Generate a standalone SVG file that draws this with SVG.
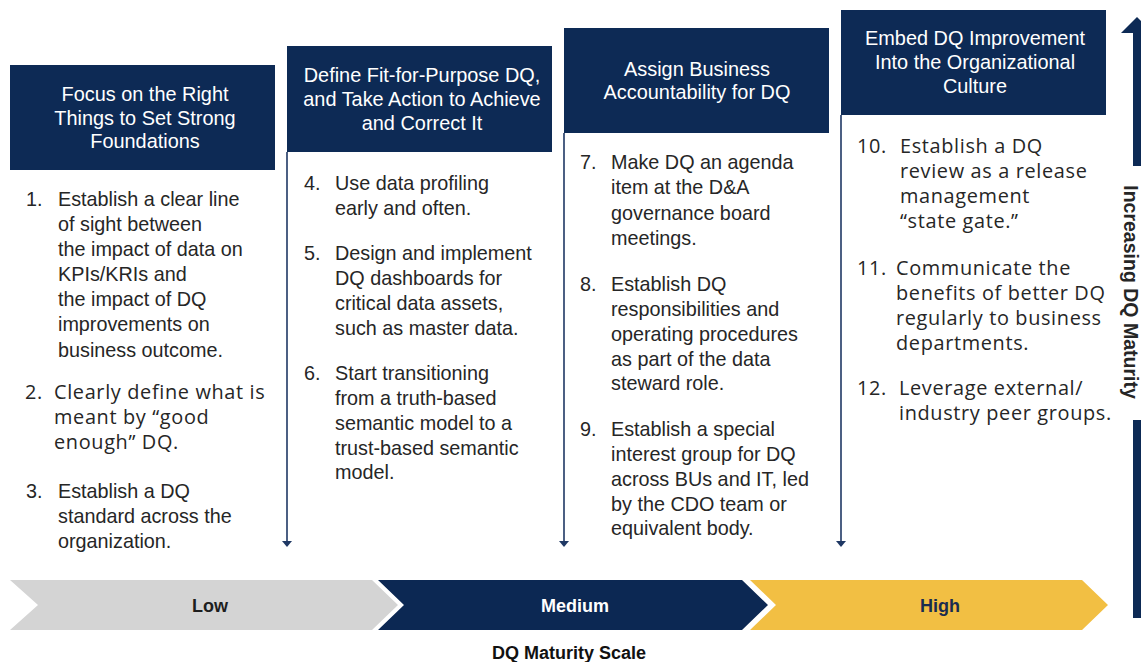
<svg xmlns="http://www.w3.org/2000/svg" width="1141" height="662" viewBox="0 0 1141 662">
  <style>
    .hdr { fill: #0d2a55; }
    .htxt { font-family: "Liberation Sans", Arial, sans-serif; font-size: 19.9px; fill: #ffffff; text-anchor: middle; }
    .body { font-family: "Liberation Sans", Arial, sans-serif; font-size: 19.8px; fill: #262626; }
    .alt { font-family: "Open Sans", "Liberation Sans", sans-serif; font-size: 19.9px; fill: #262626; letter-spacing: 0.65px; }
    .guide { stroke: #1f3864; stroke-width: 1.6; fill: none; }
    .tip { fill: #1f3864; }
    .scale { font-family: "Liberation Sans", Arial, sans-serif; font-size: 18px; font-weight: bold; text-anchor: middle; }
  </style>
  <rect width="1141" height="662" fill="#ffffff"/>

  <!-- column guides -->
  <g id="connectors">
    <line class="guide" x1="287" y1="152" x2="287" y2="542"/>
    <path class="tip" d="M282,541 L292,541 L287,547 Z"/>
    <line class="guide" x1="564" y1="133" x2="564" y2="542"/>
    <path class="tip" d="M559,541 L569,541 L564,547 Z"/>
    <line class="guide" x1="841" y1="115" x2="841" y2="542"/>
    <path class="tip" d="M836,541 L846,541 L841,547 Z"/>
  </g>

  <!-- stage 1 -->
  <g id="stage1">
    <rect class="hdr" x="10" y="65" width="265" height="105"/>
    <text class="htxt" x="145" y="101">Focus on the Right</text>
    <text class="htxt" x="145" y="125">Things to Set Strong</text>
    <text class="htxt" x="145" y="148">Foundations</text>
    <text class="body" x="26" y="206">1.</text>
    <text class="body" x="58" y="206">Establish a clear line</text>
    <text class="body" x="58" y="231">of sight between</text>
    <text class="body" x="58" y="256">the impact of data on</text>
    <text class="body" x="58" y="281">KPIs/KRIs and</text>
    <text class="body" x="58" y="306">the impact of DQ</text>
    <text class="body" x="58" y="331">improvements on</text>
    <text class="body" x="58" y="357">business outcome.</text>
    <text class="alt" x="25" y="399">2.</text>
    <text class="alt" x="54" y="399">Clearly define what is</text>
    <text class="alt" x="54" y="424">meant by “good</text>
    <text class="alt" x="54" y="449">enough” DQ.</text>
    <text class="body" x="26" y="498">3.</text>
    <text class="body" x="58" y="498">Establish a DQ</text>
    <text class="body" x="58" y="523">standard across the</text>
    <text class="body" x="58" y="548">organization.</text>
  </g>

  <!-- stage 2 -->
  <g id="stage2">
    <rect class="hdr" x="287" y="46" width="265" height="106"/>
    <text class="htxt" x="422" y="82">Define Fit-for-Purpose DQ,</text>
    <text class="htxt" x="422" y="106">and Take Action to Achieve</text>
    <text class="htxt" x="422" y="130">and Correct It</text>
    <text class="body" x="304" y="190">4.</text>
    <text class="body" x="335" y="190">Use data profiling</text>
    <text class="body" x="335" y="215">early and often.</text>
    <text class="body" x="304" y="260">5.</text>
    <text class="body" x="335" y="260">Design and implement</text>
    <text class="body" x="335" y="285">DQ dashboards for</text>
    <text class="body" x="335" y="310">critical data assets,</text>
    <text class="body" x="335" y="335">such as master data.</text>
    <text class="body" x="304" y="380">6.</text>
    <text class="body" x="335" y="380">Start transitioning</text>
    <text class="body" x="335" y="405">from a truth-based</text>
    <text class="body" x="335" y="430">semantic model to a</text>
    <text class="body" x="335" y="455">trust-based semantic</text>
    <text class="body" x="335" y="479">model.</text>
  </g>

  <!-- stage 3 -->
  <g id="stage3">
    <rect class="hdr" x="564" y="28" width="265" height="105"/>
    <text class="htxt" x="697" y="76">Assign Business</text>
    <text class="htxt" x="697" y="99">Accountability for DQ</text>
    <text class="body" x="580" y="169">7.</text>
    <text class="body" x="611" y="169">Make DQ an agenda</text>
    <text class="body" x="611" y="194">item at the D&amp;A</text>
    <text class="body" x="611" y="220">governance board</text>
    <text class="body" x="611" y="245">meetings.</text>
    <text class="body" x="580" y="291">8.</text>
    <text class="body" x="611" y="291">Establish DQ</text>
    <text class="body" x="611" y="316">responsibilities and</text>
    <text class="body" x="611" y="341">operating procedures</text>
    <text class="body" x="611" y="366">as part of the data</text>
    <text class="body" x="611" y="390">steward role.</text>
    <text class="body" x="580" y="436">9.</text>
    <text class="body" x="611" y="436">Establish a special</text>
    <text class="body" x="611" y="461">interest group for DQ</text>
    <text class="body" x="611" y="486">across BUs and IT, led</text>
    <text class="body" x="611" y="511">by the CDO team or</text>
    <text class="body" x="611" y="535">equivalent body.</text>
  </g>

  <!-- stage 4 -->
  <g id="stage4">
    <rect class="hdr" x="841" y="10" width="265" height="105"/>
    <text class="htxt" x="975" y="45">Embed DQ Improvement</text>
    <text class="htxt" x="975" y="69">Into the Organizational</text>
    <text class="htxt" x="975" y="93">Culture</text>
    <text class="alt" x="857" y="153">10.</text>
    <text class="alt" x="900" y="153">Establish a DQ</text>
    <text class="alt" x="900" y="178">review as a release</text>
    <text class="alt" x="900" y="203">management</text>
    <text class="alt" x="900" y="228">“state gate.”</text>
    <text class="alt" x="857" y="275">11.</text>
    <text class="alt" x="896" y="275">Communicate the</text>
    <text class="alt" x="896" y="300">benefits of better DQ</text>
    <text class="alt" x="896" y="325">regularly to business</text>
    <text class="alt" x="896" y="350">departments.</text>
    <text class="alt" x="857" y="395">12.</text>
    <text class="alt" x="899" y="395">Leverage external/</text>
    <text class="alt" x="899" y="420">industry peer groups.</text>
  </g>

  <!-- vertical maturity axis -->
  <g id="maturity-axis">
    <rect x="1133" y="30" width="9" height="136" fill="#0d2a55"/>
    <path d="M1121,33 L1137,17 L1153,33 Z" fill="#0d2a55"/>
    <rect x="1133" y="420" width="9" height="198" fill="#0d2a55"/>
    <text transform="translate(1124,292) rotate(90)" font-family="Liberation Sans, Arial, sans-serif" font-size="19.5" font-weight="bold" fill="#262626" text-anchor="middle">Increasing DQ Maturity</text>
  </g>

  <!-- maturity scale chevrons -->
  <g id="scale-low">
    <polygon points="10,580 372,580 398,605 372,630 10,630 38,605" fill="#d4d4d4"/>
    <text class="scale" x="210" y="612" fill="#1e1e1e">Low</text>
  </g>
  <g id="scale-medium">
    <polygon points="378,580 742,580 768,605 742,630 378,630 404,605" fill="#0c2853"/>
    <text class="scale" x="575" y="612" fill="#ffffff">Medium</text>
  </g>
  <g id="scale-high">
    <polygon points="750,580 1082,580 1108,605 1082,630 750,630 776,605" fill="#f2bf43"/>
    <text class="scale" x="940" y="612" fill="#1a2c50">High</text>
  </g>
  <text class="scale" x="569" y="659" fill="#111111" font-size="17">DQ Maturity Scale</text>
</svg>
